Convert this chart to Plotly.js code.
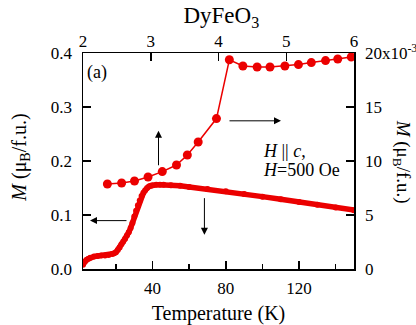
<!DOCTYPE html>
<html>
<head>
<meta charset="utf-8">
<script src="https://cdn.plot.ly/plotly-3.0.1.min.js"></script>
<style>html,body{margin:0;padding:0;background:#fff;}#chart{width:416px;height:325px;}</style>
</head>
<body>
<div id="chart"></div>
<script>
// M vs Temperature (bottom / left axes)
const temperatureK = [2,3,4,5,6,8,10,12,14,16,18,19,20,21,22,23,24,25,26,27,28,29,30,31,32,33,34,35,36,37,38,39,40,42,44,46,50,55,60,70,80,90,100,110,120,130,140,150];
const magnetizationT = [0.008,0.014,0.017,0.019,0.021,0.023,0.024,0.025,0.025,0.026,0.028,0.029,0.031,0.035,0.040,0.046,0.051,0.056,0.062,0.068,0.076,0.085,0.097,0.108,0.118,0.127,0.135,0.141,0.146,0.150,0.153,0.154,0.155,0.156,0.156,0.156,0.155,0.154,0.152,0.148,0.144,0.139,0.134,0.129,0.124,0.119,0.114,0.109];
// Second series (top / right axes), right values in units of 10^-3
const topAxisValues = [2.36,2.57,2.76,2.96,3.17,3.38,3.54,3.70,3.97,4.16,4.36,4.57,4.76,4.98,5.18,5.37,5.58,5.76,5.96];
const magnetizationR = [7.87,7.96,8.15,8.52,9.02,9.63,10.56,11.76,13.93,19.37,18.80,18.70,18.70,18.80,18.93,19.11,19.30,19.44,19.63];
const bottomTicks = [40,80,120];
const bottomMinorTicks = [20,60,100,140];
const topTicks = [2,3,4,5,6];
const leftTicks = [0,0.1,0.2,0.3,0.4];
const rightTicks = [0,5,10,15,20];
const rightTickText = ['0','5','10','15','20x10<sup>-3</sup>'];

const RED = 'rgb(235,0,0)';
const FONT = 'Liberation Serif';

const traces = [
  {x: temperatureK, y: magnetizationT, xaxis: 'x', yaxis: 'y', mode: 'lines+markers',
   line: {color: RED, width: 5.5}, marker: {color: RED, size: 6}, showlegend: false, hoverinfo: 'skip'},
  {x: topAxisValues, y: magnetizationR, xaxis: 'x2', yaxis: 'y2', mode: 'lines+markers',
   line: {color: RED, width: 1.5}, marker: {color: RED, size: 9}, showlegend: false, hoverinfo: 'skip'}
];

function axisCommon(extra) {
  return Object.assign({showline: true, linecolor: '#000', linewidth: 1.5, ticks: 'inside', ticklen: 8,
    tickwidth: 1.5, tickcolor: '#000', showgrid: false, zeroline: false,
    tickfont: {family: FONT, size: 17, color: '#000'}}, extra);
}

const layout = {
  width: 416, height: 325,
  margin: {l: 83, r: 62, t: 53, b: 56},
  paper_bgcolor: '#fff', plot_bgcolor: '#fff',
  font: {family: FONT, color: '#000', size: 17},
  title: {text: 'DyFeO<sub>3</sub>', font: {family: FONT, size: 23, color: '#000'}, x: 0.532, xanchor: 'center', y: 0.955, yanchor: 'middle'},
  xaxis: axisCommon({range: [2, 150], tickvals: bottomTicks, ticklabelstandoff: 3,
    minor: {tickvals: bottomMinorTicks, ticks: 'inside', ticklen: 5, tickwidth: 1.5, tickcolor: '#000'},
    title: {text: 'Temperature (K)', font: {family: FONT, size: 20, color: '#000'}, standoff: 9}}),
  xaxis2: axisCommon({range: [2, 6], tickvals: topTicks, overlaying: 'x', side: 'top', anchor: 'y', ticklabelstandoff: -2}),
  yaxis: axisCommon({range: [0, 0.4], tickvals: leftTicks, tickformat: '.1f', ticklabelstandoff: 6}),
  yaxis2: axisCommon({range: [0, 20], tickvals: rightTicks, ticktext: rightTickText, overlaying: 'y', side: 'right', anchor: 'x', ticklabelstandoff: 6}),
  annotations: [
    {xref: 'paper', yref: 'paper', x: -0.229, y: 0.515, xanchor: 'center', yanchor: 'middle', text: '<i>M</i> (μ<sub>B</sub>/f.u.)', textangle: -90, showarrow: false, font: {family: FONT, size: 20, color: '#000'}},
    {xref: 'paper', yref: 'paper', x: 1.177, y: 0.497, xanchor: 'center', yanchor: 'middle', text: '<i>M</i> (μ<sub>B</sub>/f.u.)', textangle: 90, showarrow: false, font: {family: FONT, size: 19, color: '#000'}},
    {xref: 'paper', yref: 'paper', x: 0.008, y: 0.912, xanchor: 'left', yanchor: 'middle', text: '(a)', showarrow: false, font: {family: FONT, size: 18, color: '#000'}},
    {xref: 'paper', yref: 'paper', x: 0.657, y: 0.547, xanchor: 'left', yanchor: 'middle', text: '<i>H</i> || <i>c</i>,', showarrow: false, font: {family: FONT, size: 18, color: '#000'}},
    {xref: 'paper', yref: 'paper', x: 0.657, y: 0.46, xanchor: 'left', yanchor: 'middle', text: '<i>H</i>=500 Oe', showarrow: false, font: {family: FONT, size: 18, color: '#000'}},
    {xref: 'paper', yref: 'paper', x: 0.2786, y: 0.640, ax: 0, ay: 36, text: '', showarrow: true, arrowhead: 2, arrowsize: 1.4, arrowwidth: 1, arrowcolor: '#000', standoff: 0},
    {xref: 'paper', yref: 'paper', x: 0.7306, y: 0.686, ax: -53, ay: 0, text: '', showarrow: true, arrowhead: 2, arrowsize: 1.4, arrowwidth: 1, arrowcolor: '#000', standoff: 0},
    {xref: 'paper', yref: 'paper', x: 0.0258, y: 0.224, ax: 38, ay: 0, text: '', showarrow: true, arrowhead: 2, arrowsize: 1.4, arrowwidth: 1, arrowcolor: '#000', standoff: 0},
    {xref: 'paper', yref: 'paper', x: 0.448, y: 0.159, ax: 0, ay: -38, text: '', showarrow: true, arrowhead: 2, arrowsize: 1.4, arrowwidth: 1, arrowcolor: '#000', standoff: 0}
  ]
};

Plotly.newPlot('chart', traces, layout, {displayModeBar: false, staticPlot: true});
</script>
</body>
</html>
